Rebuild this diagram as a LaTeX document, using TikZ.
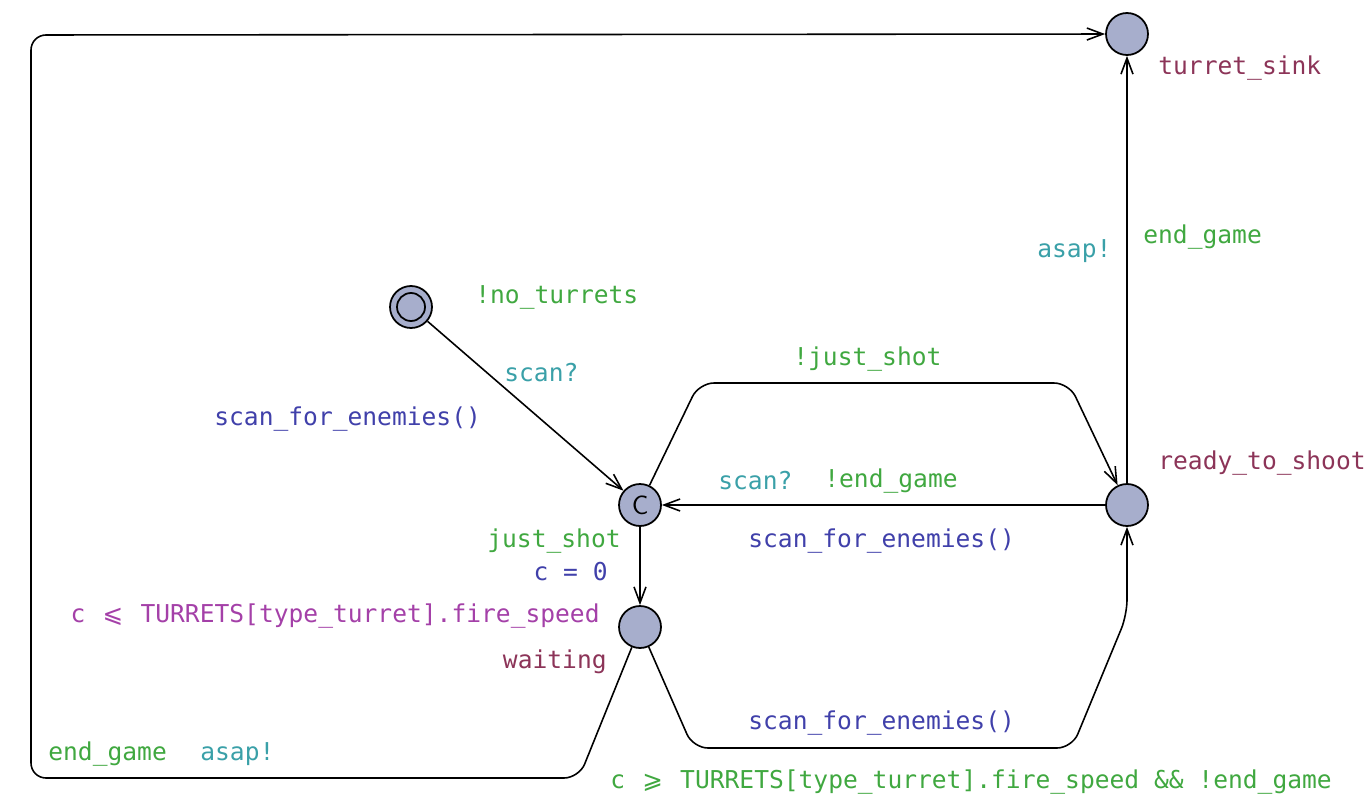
\documentclass[tikz,border=0pt]{standalone}
\usepackage{fontspec}
\setmonofont{DejaVu Sans Mono}
\newfontfamily\relfont{DejaVu Sans}
\usetikzlibrary{arrows.meta,calc}
\definecolor{LocClr}{RGB}{167,174,204}
\definecolor{GuardClr}{RGB}{64,168,64}
\definecolor{SyncClr}{RGB}{58,160,168}
\definecolor{UpdClr}{RGB}{64,64,170}
\definecolor{NameClr}{RGB}{140,52,88}
\definecolor{InvClr}{RGB}{164,64,168}

\tikzset{
  loc/.style={circle,draw=black,line width=1pt,fill=LocClr,minimum size=0.84cm,inner sep=0pt},
  edge/.style={line width=0.9pt,-{Straight Barb[length=3.2mm,width=2.4mm]},rounded corners=0.3cm},
  lbl/.style={inner sep=0pt,font=\ttfamily\fontsize{14}{16}\selectfont},
  guard/.style={lbl,text=GuardClr},
  sync/.style={lbl,text=SyncClr},
  upd/.style={lbl,text=UpdClr},
  lname/.style={lbl,text=NameClr},
  inv/.style={lbl,text=InvClr}
}

\begin{document}
\begin{tikzpicture}[x=0.02cm,y=-0.02cm]
\useasboundingbox (0,0) rectangle (1366,811);

\node[loc] (init) at (411,307) {};
\draw[line width=1pt] (init.center) circle[radius=0.28cm];
\node[loc,font=\sffamily\fontsize{15}{15}\selectfont] (comm) at (640,505) {C};
\node[loc] (waiting) at (640,627) {};
\node[loc] (ready) at (1127,505) {};
\node[loc] (sink) at (1127,34) {};

\coordinate (topL) at (699,383);
\coordinate (topR) at (1069,383);
\coordinate (botL) at (693,748);
\coordinate (botR) at (1072,748);
\coordinate (botU) at (1127,615);
\coordinate (loopA) at (579,778);
\coordinate (loopB) at (31,778);
\coordinate (loopC) at (31,35);

\draw[edge] (init) -- (comm);
\draw[edge] (comm) -- (waiting);
\draw[edge] (ready) -- (comm);
\draw[edge] (comm) -- (topL) -- (topR) -- (ready);
\draw[edge] (waiting) -- (botL) -- (botR) -- (botU) -- (ready);
\draw[edge] (waiting) -- (loopA) -- (loopB) -- (loopC) -- (sink);
\draw[edge] (ready) -- (sink);

\node[lname,anchor=west] (nsink) at (1158,68) {turret\_sink};
\node[lname,anchor=west] (nready) at (1158,463) {ready\_to\_shoot};
\node[lname,anchor=east] (nwait) at (607,662) {waiting};
\node[inv,anchor=east] (iwait) at (600,616) {c\hspace{0.7em}{\relfont ⩽}\hspace{0.7em}TURRETS[type\_turret].fire\_speed};

\node[guard,anchor=west] at (475,297) {!no\_turrets};
\node[sync,anchor=west] at (504,373) {scan?};
\node[upd,anchor=west] at (214,419) {scan\_for\_enemies()};

\node[guard,anchor=east] at (621,541) {just\_shot};
\node[upd,anchor=east] at (608,572) {c = 0};

\node[guard,anchor=west] at (793,359) {!just\_shot};

\node[sync,anchor=west] at (718,481) {scan?};
\node[guard,anchor=west] at (824,481) {!end\_game};
\node[upd,anchor=west] at (748,541) {scan\_for\_enemies()};

\node[upd,anchor=west] at (748,723) {scan\_for\_enemies()};
\node[guard,anchor=west] at (610,782) {c\hspace{0.7em}{\relfont ⩾}\hspace{0.7em}TURRETS[type\_turret].fire\_speed \&\& !end\_game};

\node[guard,anchor=west] at (48,754) {end\_game};
\node[sync,anchor=west] at (200,754) {asap!};

\node[sync,anchor=west] at (1037,251) {asap!};
\node[guard,anchor=west] at (1143,237) {end\_game};

\end{tikzpicture}
\end{document}
